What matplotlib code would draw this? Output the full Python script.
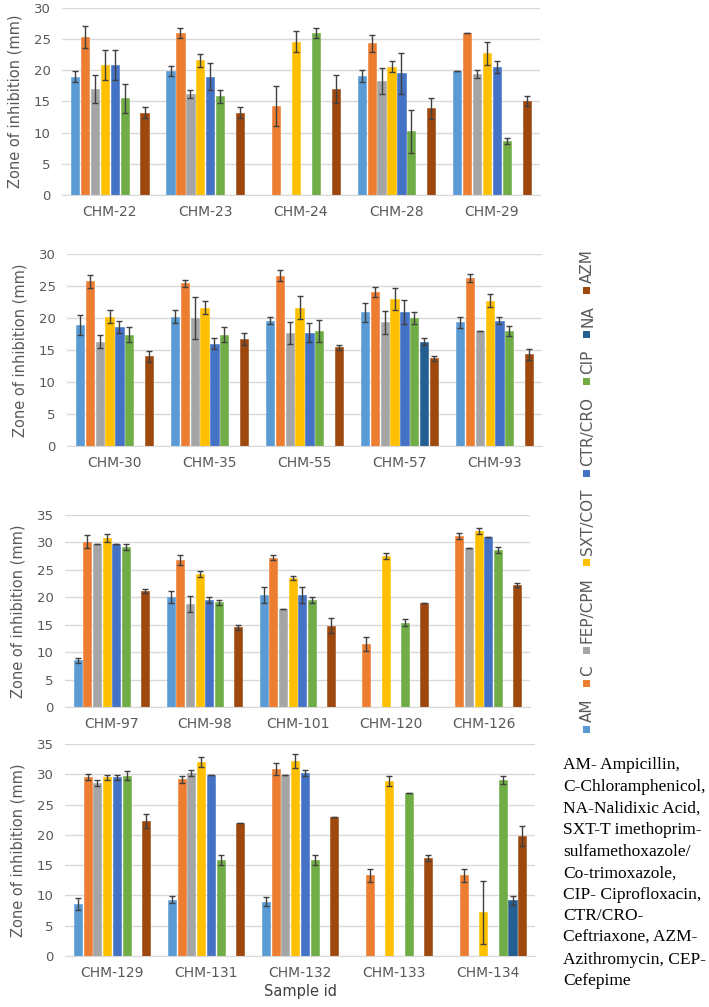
import numpy as np
import matplotlib
matplotlib.use("Agg")
import matplotlib.pyplot as plt
from matplotlib.patches import Rectangle

nan = np.nan

samples = ['CHM-22', 'CHM-23', 'CHM-24', 'CHM-28', 'CHM-29',
           'CHM-30', 'CHM-35', 'CHM-55', 'CHM-57', 'CHM-93',
           'CHM-97', 'CHM-98', 'CHM-101', 'CHM-120', 'CHM-126',
           'CHM-129', 'CHM-131', 'CHM-132', 'CHM-133', 'CHM-134']

drugs = ['AM', 'C', 'FEP/CPM', 'SXT/COT', 'CTR/CRO', 'CIP', 'NA', 'AZM']
colors = ['#5B9BD5', '#ED7D31', '#A5A5A5', '#FFC000', '#4472C4', '#70AD47', '#255E91', '#9E480E']

am = [19.0, 19.9, nan, 19.1, 19.9, 18.9, 20.2, 19.6, 20.9, 19.3,
      8.5, 20.0, 20.4, nan, nan, 8.6, 9.3, 9.0, nan, nan]
am_err = [0.9, 0.8, 0, 1.0, 0, 1.5, 1.0, 0.6, 1.5, 0.9,
          0.4, 1.1, 1.4, 0, 0, 1.0, 0.6, 0.8, 0, 0]
c = [25.3, 26.0, 14.3, 24.3, 26.0, 25.7, 25.4, 26.6, 24.0, 26.2,
     30.1, 26.8, 27.2, 11.5, 31.2, 29.5, 29.2, 30.9, 13.3, 13.3]
c_err = [1.8, 0.8, 3.2, 1.3, 0, 1.0, 0.5, 0.9, 0.8, 0.6,
         1.2, 0.9, 0.45, 1.2, 0.6, 0.5, 0.6, 1.0, 1.0, 1.0]
fep = [17.0, 16.2, nan, 18.3, 19.4, 16.3, 20.0, 17.7, 19.3, 18.0,
       29.8, 18.8, 17.8, nan, 28.9, 28.6, 30.2, 29.9, nan, nan]
fep_err = [2.2, 0.6, 0, 2.1, 0.7, 1.0, 3.3, 1.7, 1.8, 0,
           0, 1.4, 0, 0, 0, 0.45, 0.45, 0, 0, 0]
sxt = [20.9, 21.6, 24.6, 20.6, 22.7, 20.2, 21.6, 21.6, 23.0, 22.7,
       30.8, 24.2, 23.5, 27.5, 32.1, 29.5, 32.0, 32.2, 28.9, 7.2]
sxt_err = [2.4, 1.0, 1.7, 0.9, 1.8, 1.0, 1.0, 1.8, 1.7, 1.0,
           0.8, 0.5, 0.4, 0.6, 0.6, 0.45, 0.8, 1.1, 0.8, 5.2]
ctr = [20.9, 19.0, nan, 19.5, 20.5, 18.6, 16.0, 17.7, 20.9, 19.6,
       29.8, 19.5, 20.4, nan, 30.9, 29.5, 29.9, 30.2, nan, nan]
ctr_err = [2.4, 2.1, 0, 3.3, 1.0, 1.0, 0.8, 1.5, 1.9, 0.6,
           0, 0.5, 1.4, 0, 0, 0.45, 0, 0.45, 0, 0]
cip = [15.5, 15.8, 26.0, 10.2, 8.7, 17.4, 17.4, 18.0, 20.0, 18.0,
       29.2, 19.1, 19.5, 15.4, 28.6, 29.8, 15.9, 15.9, 26.9, 29.1]
cip_err = [2.3, 1.0, 0.8, 3.5, 0.5, 1.2, 1.2, 1.7, 0.9, 0.8,
           0.5, 0.45, 0.5, 0.6, 0.5, 0.8, 0.8, 0.8, 0, 0.65]
na = [nan, nan, nan, nan, nan, nan, nan, nan, 16.3, nan,
      nan, nan, nan, nan, nan, nan, nan, nan, nan, 9.2]
na_err = [0, 0, 0, 0, 0, 0, 0, 0, 0.5, 0,
          0, 0, 0, 0, 0, 0, 0, 0, 0, 0.7]
azm = [13.2, 13.2, 17.0, 13.9, 15.0, 14.0, 16.7, 15.4, 13.7, 14.3,
       21.2, 14.5, 14.8, 18.9, 22.2, 22.3, 21.9, 22.9, 16.2, 19.9]
azm_err = [0.9, 0.9, 2.2, 1.7, 0.8, 0.8, 0.9, 0.4, 0.4, 0.9,
           0.4, 0.45, 1.4, 0, 0.35, 1.2, 0, 0, 0.55, 1.65]

values = [am, c, fep, sxt, ctr, cip, na, azm]
errors = [am_err, c_err, fep_err, sxt_err, ctr_err, cip_err, na_err, azm_err]

panel_ymax = [30, 30, 35, 35]
# axes boxes in figure fraction [left, bottom, width, height]
boxes = [[0.0874, 0.8064, 0.674, 0.1857],
         [0.0945, 0.5571, 0.670, 0.1907],
         [0.0917, 0.2979, 0.656, 0.1907],
         [0.0917, 0.0506, 0.663, 0.2105]]

fig = plt.figure(figsize=(7.09, 10.07), dpi=100)
text_col = '#595959'
slot = 0.104
bw = 0.086

for p in range(4):
    ax = fig.add_axes(boxes[p])
    idx = range(p * 5, p * 5 + 5)
    x = np.arange(5)
    for k in range(8):
        v = np.array([values[k][i] for i in idx])
        e = np.array([errors[k][i] for i in idx])
        xs = x + (k - 3.5) * slot
        ax.bar(xs, v, width=bw, color=colors[k], edgecolor=colors[k], linewidth=0.4, zorder=2)
        ok = ~np.isnan(v)
        ax.errorbar(xs[ok], v[ok], yerr=e[ok], fmt='none', ecolor='#404040',
                    elinewidth=1.0, capsize=2.5, capthick=1.0, zorder=3)
    ax.set_xlim(-0.5, 4.5)
    ax.set_ylim(0, panel_ymax[p])
    ax.set_yticks(np.arange(0, panel_ymax[p] + 1, 5))
    ax.set_xticks(x)
    ax.set_xticklabels([samples[i] for i in idx])
    ax.grid(axis='y', color='#D9D9D9', linewidth=1.0, zorder=0)
    ax.set_axisbelow(True)
    for s in ['top', 'right', 'left']:
        ax.spines[s].set_visible(False)
    ax.spines['bottom'].set_color('#D9D9D9')
    ax.tick_params(length=0, colors=text_col)
    ax.tick_params(axis='y', labelsize=9.5, pad=8)
    ax.tick_params(axis='x', labelsize=10, pad=7)
    ax.set_ylabel('Zone of inhibition (mm)', fontsize=10.5, color=text_col, labelpad=8)
    if p == 3:
        ax.set_xlabel('Sample id', fontsize=10.5, color='#404040', labelpad=3)

# vertical legend, drawn bottom to top
fig.canvas.draw()
renderer = fig.canvas.get_renderer()
W, H = fig.get_size_inches() * fig.dpi
ypix = H - 733
xpix = 583
sq = 7
for k in range(8):
    fig.patches.append(Rectangle((xpix / W, ypix / H), sq / W, sq / H, transform=fig.transFigure,
                                 facecolor=colors[k], edgecolor='none'))
    t = fig.text((xpix + sq / 2 + 1) / W, (ypix + sq + 4) / H, drugs[k], rotation=90,
                 ha='center', va='bottom', fontsize=11, color=text_col)
    bb = t.get_window_extent(renderer)
    ypix = bb.y1 + 11.5

note = ("AM- Ampicillin,\nC-Chloramphenicol,\nNA-Nalidixic Acid,\nSXT-T imethoprim-\n"
        "sulfamethoxazole/\nCo-trimoxazole,\nCIP- Ciprofloxacin,\nCTR/CRO-\n"
        "Ceftriaxone, AZM-\nAzithromycin, CEP-\nCefepime")
fig.text(563 / W, 1 - 757 / H, note, ha='left', va='top', fontsize=12.5,
         family='Liberation Serif', color='black', linespacing=1.47)

fig.savefig('out.png', dpi=100)
